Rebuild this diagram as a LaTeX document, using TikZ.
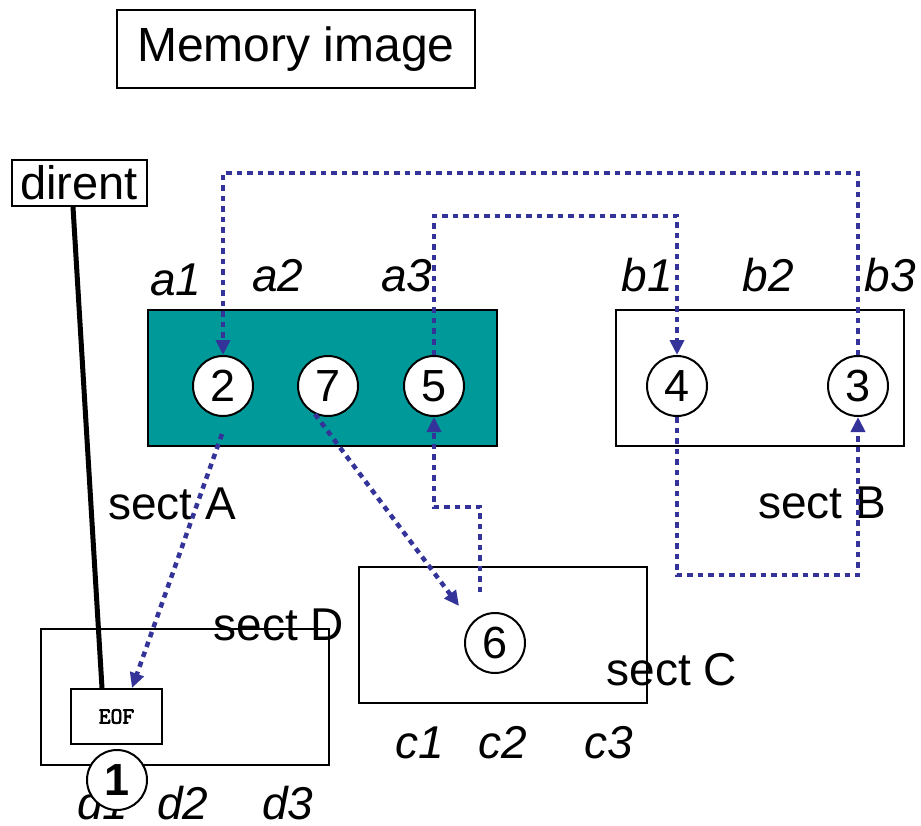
\documentclass[tikz,border=0pt]{standalone}
\usepackage{fontspec}
\setmainfont{Liberation Sans}
\newfontfamily\eofmono[FakeBold=3]{Latin Modern Mono}
\usetikzlibrary{arrows.meta,calc}
\definecolor{secteal}{RGB}{0,153,153}
\definecolor{linkblue}{RGB}{51,51,153}
\begin{document}
\begin{tikzpicture}[x=1pt,y=-1pt,
  big/.style={font=\fontsize{47}{52}\selectfont, inner sep=0},
  idx/.style={font=\fontsize{46}{52}\selectfont\itshape, anchor=base, inner sep=0},
  sectlbl/.style={font=\fontsize{46}{52}\selectfont, anchor=base, inner sep=0},
  box/.style={draw, line width=2, inner sep=0},
  num/.style={circle, draw, line width=2, fill=white, minimum size=60, inner sep=0,
              font=\fontsize{45}{48}\selectfont},
  link/.style={draw=linkblue, line width=4.5, dash pattern=on 5.5 off 5,
               -{Triangle[length=15pt,width=14pt]}}]
\useasboundingbox (0,0) rectangle (921,826);

% title
\node[box, font=\fontsize{48}{52}\selectfont, inner sep=0,
      minimum width=358, minimum height=78] (title) at (296,49) {Memory image};

% directory entry
\node[box, big, minimum width=135, minimum height=46] (dirent) at (79,183) {dirent};

% sectors
\node[box, fill=secteal, minimum width=349, minimum height=136] (sa) at (322,378) {};
\node[box, minimum width=288, minimum height=136] (sb) at (760,378) {};
\node[box, minimum width=288, minimum height=136] (sc) at (503,635) {};
\node[box, minimum width=288, minimum height=136] (sd) at (185,697) {};
\node[box, font=\fontsize{23}{24}\selectfont\eofmono,
      minimum width=91, minimum height=55] (eof) at (116.5,716.5) {EOF};

% slot labels
\node[idx] (la1) at (176,296) {a1};
\node[idx] (la2) at (278,292) {a2};
\node[idx] (la3) at (407,292) {a3};
\node[idx] (lb1) at (647,292) {b1};
\node[idx] (lb2) at (768,292) {b2};
\node[idx] (lb3) at (890,292) {b3};
\node[idx] (lc1) at (420,758) {c1};
\node[idx] (lc2) at (503,758) {c2};
\node[idx] (lc3) at (609,758) {c3};
\node[idx] (ld1) at (103,819) {d1};
\node[idx] (ld2) at (183,819) {d2};
\node[idx] (ld3) at (288,819) {d3};

% sector names
\node[sectlbl] (nA) at (172,519) {sect A};
\node[sectlbl] (nB) at (822,518) {sect B};
\node[sectlbl] (nC) at (672,685) {sect C};
\node[sectlbl] (nD) at (279,640) {sect D};

% numbered blocks
\node[num] (n2) at (223,386) {2};
\node[num] (n7) at (328,386) {7};
\node[num] (n5) at (434,386) {5};
\node[num] (n4) at (677,386) {4};
\node[num] (n3) at (858,386) {3};
\node[num] (n6) at (495,643) {6};
\node[num, font=\fontsize{45}{48}\selectfont\bfseries] (n1) at (117,780) {1};

% dirent points at the EOF block
\draw[line width=5] ($(dirent.south)+(-6,0)$) -- ($(eof.north)+(-14.5,0)$);

% chain of blocks
\draw[link] (n3.north) -- ++(0,-182) -| (n2.north);
\draw[link] ($(n2.south)+(-1,17)$) -- ($(eof.north)+(15.5,0)$);
\draw[link] (n7.245) -- ($(n6)+(-36,-37)$);
\draw[link] ($(n6)+(-15,-51)$) |- ($(n5.south)+(0,90)$) -- (n5.south);
\draw[link] (n5.north) -- ++(0,-139) -| (n4.north);
\draw[link] (n4.south) -- ++(0,158) -| (n3.south);
\end{tikzpicture}
\end{document}
